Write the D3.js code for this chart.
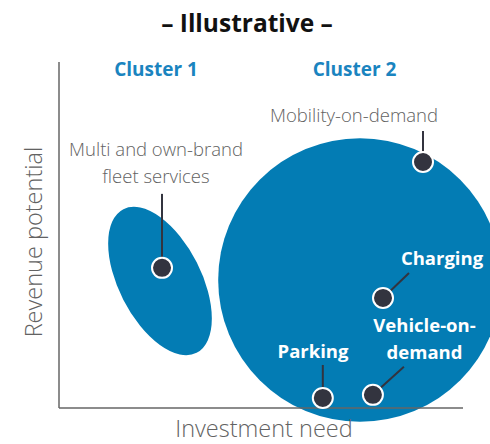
<!DOCTYPE html>
<html>
<head>
<meta charset="utf-8">
<script src="https://cdn.jsdelivr.net/npm/d3@7"></script>
<style>
    body { margin: 0; background: #fff; }
    svg { display: block; font-family: "Open Sans", sans-serif; }
</style>
</head>
<body>
<div id="chart"></div>
<script>
// Data (axis units 0..100)
const clusterNames = ["Cluster 1", "Cluster 2"];
const clusterX = [25, 74.5];
const clusterY = [36.7, 37];
const clusterRx = [10.2, 35.1];   // x-units
const clusterRy = [23.3, 41];     // y-units
const clusterAngle = [-27, 0];

const pointNames = ["Multi and own-brand fleet services", "Mobility-on-demand", "Charging", "Vehicle-on-demand", "Parking"];
const pointX = [25.5, 90.1, 80.2, 77.7, 65.3];
const pointY = [40.5, 71.1, 31.8, 3.8, 2.9];

const xLabel = "Investment need";
const yLabel = "Revenue potential";
const title = "– Illustrative –";

// Layout
const width = 490;
const height = 444;
const marginLeft = 59;
const marginRight = 27;
const marginTop = 62;
const marginBottom = 36;

const blue = "#037cb4";
const dark = "#33343f";
const grey = "#626262";

const x = d3.scaleLinear().domain([0, 100]).range([marginLeft, width - marginRight]);
const y = d3.scaleLinear().domain([0, 100]).range([height - marginBottom, marginTop]);

const svg = d3.select("#chart")
    .append("svg")
    .attr("width", width)
    .attr("height", height);

// cluster shapes
svg.append("g")
    .selectAll("ellipse")
    .data(clusterNames)
    .join("ellipse")
    .attr("cx", 0)
    .attr("cy", 0)
    .attr("rx", (d, i) => x(clusterRx[i]) - x(0))
    .attr("ry", (d, i) => (i === 1 ? x(clusterRx[i]) - x(0) : y(0) - y(clusterRy[i])))
    .attr("transform", (d, i) => `translate(${x(clusterX[i])},${y(clusterY[i])}) rotate(${clusterAngle[i]})`)
    .attr("fill", blue);

// axes (drawn as plain lines, no ticks)
svg.append("line")
    .attr("x1", x(0)).attr("x2", x(0))
    .attr("y1", y(100)).attr("y2", y(0))
    .attr("stroke", "#666").attr("stroke-width", 1.5);
svg.append("line")
    .attr("x1", x(0)).attr("x2", x(100))
    .attr("y1", y(0)).attr("y2", y(0))
    .attr("stroke", "#666").attr("stroke-width", 1.5);

svg.append("text")
    .attr("x", 264).attr("y", 437)
    .attr("text-anchor", "middle")
    .attr("font-size", 23.5).attr("font-weight", 300).attr("fill", grey)
    .text(xLabel);

svg.append("text")
    .attr("transform", "translate(42,242) rotate(-90)")
    .attr("text-anchor", "middle")
    .attr("font-size", 23.5).attr("font-weight", 300).attr("fill", grey)
    .text(yLabel);

svg.append("text")
    .attr("x", 247).attr("y", 32)
    .attr("text-anchor", "middle")
    .attr("font-size", 24.5).attr("font-weight", "bold").attr("fill", "#111")
    .text(title);

svg.append("g")
    .selectAll("text")
    .data(clusterNames)
    .join("text")
    .attr("x", (d, i) => [156, 354.5][i])
    .attr("y", 76)
    .attr("text-anchor", "middle")
    .attr("font-size", 19).attr("font-weight", "bold").attr("fill", "#1a84bf")
    .text((d) => d);

// leader line ends (offset from dot, px) and label placement
const leaders = [[0, -74], [0, -31], [26, -25], [31, -28], [0, -33]];
const labelLines = [
    ["Multi and own-brand", "fleet services"],
    ["Mobility-on-demand"],
    ["Charging"],
    ["Vehicle-on-", "demand"],
    ["Parking"]
];
const labelPos = [[156, 156], [354, 122], [442, 265], [424.5, 332], [313, 358]];
const labelOnBlue = [false, false, true, true, true];

svg.append("g")
    .selectAll("line")
    .data(pointNames)
    .join("line")
    .attr("x1", (d, i) => x(pointX[i]))
    .attr("y1", (d, i) => y(pointY[i]))
    .attr("x2", (d, i) => x(pointX[i]) + leaders[i][0])
    .attr("y2", (d, i) => y(pointY[i]) + leaders[i][1])
    .attr("stroke", dark).attr("stroke-width", 2);

svg.append("g")
    .selectAll("circle")
    .data(pointNames)
    .join("circle")
    .attr("cx", (d, i) => x(pointX[i]))
    .attr("cy", (d, i) => y(pointY[i]))
    .attr("r", 10)
    .attr("fill", dark)
    .attr("stroke", "#fff").attr("stroke-width", 2);

const labels = svg.append("g")
    .selectAll("text")
    .data(pointNames)
    .join("text")
    .attr("x", (d, i) => labelPos[i][0])
    .attr("y", (d, i) => labelPos[i][1])
    .attr("text-anchor", "middle")
    .attr("font-size", 18.5)
    .attr("font-weight", (d, i) => (labelOnBlue[i] ? "bold" : 300))
    .attr("fill", (d, i) => (labelOnBlue[i] ? "#fff" : grey));

labels.each(function (d, i) {
    d3.select(this)
        .selectAll("tspan")
        .data(labelLines[i])
        .join("tspan")
        .attr("x", labelPos[i][0])
        .attr("dy", (t, j) => (j === 0 ? 0 : 26.5))
        .text((t) => t);
});
</script>
</body>
</html>
